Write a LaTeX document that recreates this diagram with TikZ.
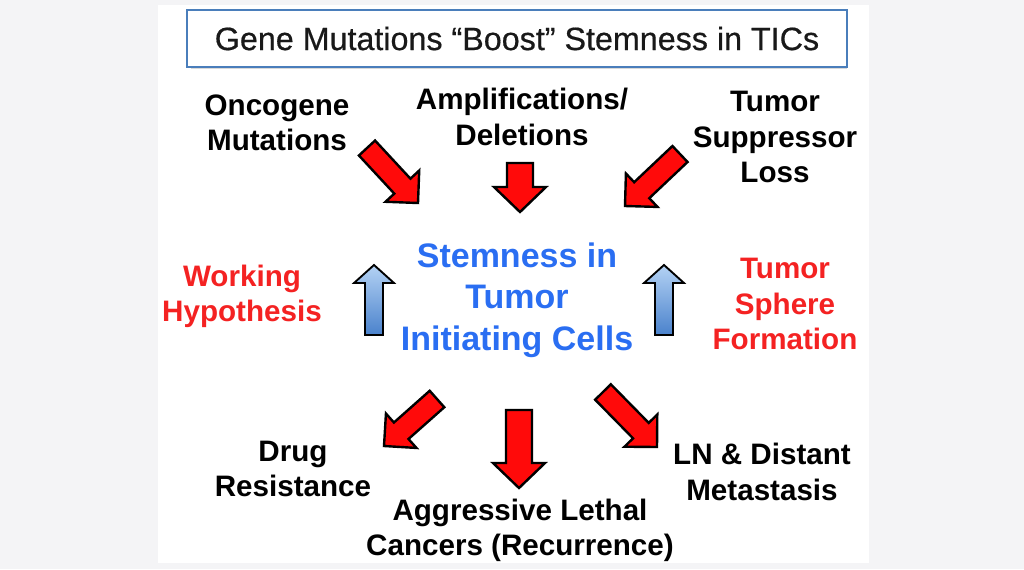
\documentclass[tikz,border=0pt]{standalone}
\usepackage{fontspec}
\setmainfont{Liberation Sans}
\newfontface\titlefont{Liberation Sans}[FakeBold=0.5]
\usetikzlibrary{calc}
\definecolor{pagebg}{HTML}{F4F4F6}
\definecolor{boxblue}{HTML}{4A7EBB}
\definecolor{txtblue}{HTML}{2A6EF2}
\definecolor{txtred}{HTML}{F42222}
\definecolor{arrred}{HTML}{FF0A0A}
\definecolor{bluetop}{HTML}{B4D2F4}
\definecolor{bluebot}{HTML}{4A82CC}
\newcommand\blockarrow[6]{%
  \pgfmathsetmacro\bw{#4*0.75}\pgfmathsetmacro\bh{#5*0.75}\pgfmathsetmacro\bl{#6*0.75}%
  \draw[#1] ($(#2)!\bw pt!90:(#3)$) -- ($(#3)!\bl pt!(#2)!\bw pt!-90:(#2)$)
    -- ($(#3)!\bl pt!(#2)!\bh pt!-90:(#2)$) -- (#3)
    -- ($(#3)!\bl pt!(#2)!\bh pt!90:(#2)$) -- ($(#3)!\bl pt!(#2)!\bw pt!90:(#2)$)
    -- ($(#2)!\bw pt!-90:(#3)$) -- cycle;}
\tikzset{
  lbl/.style={align=center, font=\fontsize{22.2}{26.4}\selectfont\bfseries, text=black, inner sep=0pt},
  redlbl/.style={lbl, text=txtred},
  redarrow/.style={fill=arrred, draw=black, line width=1.8pt, line join=miter},
  bluearrow/.style={top color=bluetop, bottom color=bluebot, draw=black, line width=1.4pt, line join=miter},
}
\begin{document}
\begin{tikzpicture}[x=0.75pt,y=-0.75pt]
\useasboundingbox (0,0) rectangle (1024,569);
\fill[pagebg] (0,0) rectangle (1024,569);
\fill[white] (158,5) rectangle (869,563);
% title
\fill[black!15] (191,12) rectangle (847,69);
\node[draw=boxblue, line width=1.6pt, fill=white, minimum width=495pt, minimum height=43pt, inner sep=0pt,
  font=\titlefont\fontsize{24.2}{28}\selectfont, text=black!90] (title) at (517,38.5) {Gene Mutations “Boost” Stemness in TICs};
% labels
\node[lbl] (onco) at (277,123) {Oncogene\\Mutations};
\node[lbl] (ampl) at (522,117) {Amplifications/\\Deletions};
\node[lbl] (tsl) at (775,137) {Tumor\\Suppressor\\Loss};
\node[align=center, inner sep=0pt, text=txtblue, font=\fontsize{25.5}{31.1}\selectfont\bfseries] (stem) at (517,300) {Stemness in\\Tumor\\Initiating Cells};
\node[redlbl] (work) at (242,296) {Working\\Hypothesis};
\node[redlbl] (sphere) at (785,304) {Tumor\\Sphere\\Formation};
\node[lbl] (drug) at (293,469) {Drug\\Resistance};
\node[lbl] (aggr) at (520,530) {Aggressive Lethal\\Cancers (Recurrence)};
\node[lbl] (ln) at (762,472) {LN \& Distant\\Metastasis};
% arrow end points
\coordinate (a1t) at (367,148); \coordinate (a1h) at (418,203);
\coordinate (a2t) at (520,163); \coordinate (a2h) at (520,212);
\coordinate (a3t) at (680,154); \coordinate (a3h) at (625,206);
\coordinate (u1t) at (374,335); \coordinate (u1h) at (374,265);
\coordinate (u2t) at (664,335); \coordinate (u2h) at (664,265);
\coordinate (b1t) at (437,399); \coordinate (b1h) at (384,446);
\coordinate (b2t) at (519,410); \coordinate (b2h) at (519,488);
\coordinate (b3t) at (603,392); \coordinate (b3h) at (657,447);
\blockarrow{redarrow}{a1t}{a1h}{11}{23}{23}
\blockarrow{redarrow}{a2t}{a2h}{13}{26}{25}
\blockarrow{redarrow}{a3t}{a3h}{11}{23}{23}
\blockarrow{bluearrow}{u1t}{u1h}{9}{20}{18}
\blockarrow{bluearrow}{u2t}{u2h}{9}{20}{18}
\blockarrow{redarrow}{b1t}{b1h}{11}{23}{23}
\blockarrow{redarrow}{b2t}{b2h}{13}{26}{25}
\blockarrow{redarrow}{b3t}{b3h}{11}{23}{23}
\end{tikzpicture}
\end{document}
